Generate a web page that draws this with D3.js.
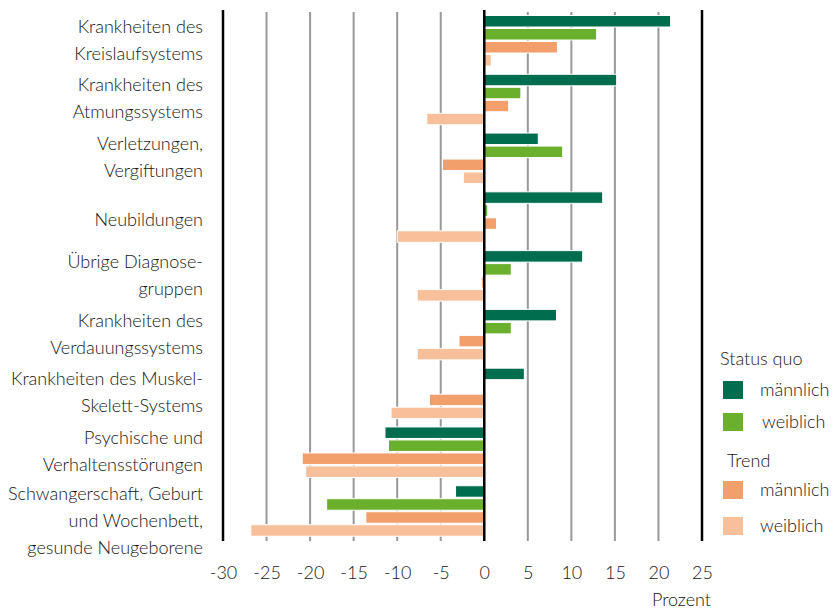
<!DOCTYPE html>
<html>
<head>
<meta charset="utf-8">
<script src="https://cdn.jsdelivr.net/npm/d3@7"></script>
<style>
  html, body { margin: 0; padding: 0; background: #fff; }
  svg text { font-family: Lato, "Open Sans", sans-serif; font-weight: 300; fill: #161616; }
</style>
</head>
<body>
<svg id="chart" width="833" height="609"></svg>
<script>
// Diagnosis groups (label lines per group)
const categories = [
  ["Krankheiten des", "Kreislaufsystems"],
  ["Krankheiten des", "Atmungssystems"],
  ["Verletzungen,", "Vergiftungen"],
  ["Neubildungen"],
  ["Übrige Diagnose-", "gruppen"],
  ["Krankheiten des", "Verdauungssystems"],
  ["Krankheiten des Muskel-", "Skelett-Systems"],
  ["Psychische und", "Verhaltensstörungen"],
  ["Schwangerschaft, Geburt", "und Wochenbett,", "gesunde Neugeborene"]
];

// Change in percent per group
const statusQuoMaennlich = [21.4, 15.2, 6.2, 13.6, 11.3, 8.3, 4.6, -11.4, -3.3];
const statusQuoWeiblich  = [12.9, 4.2, 9.0, 0.4, 3.1, 3.1, 0.0, -11.0, -18.1];
const trendMaennlich     = [8.4, 2.8, -4.8, 1.4, -0.3, -2.9, -6.3, -20.9, -13.6];
const trendWeiblich      = [0.8, -6.6, -2.4, -10.0, -7.7, -7.7, -10.7, -20.5, -26.8];

const xTicks = [-30, -25, -20, -15, -10, -5, 0, 5, 10, 15, 20, 25];

const seriesNames = ["sqM", "sqW", "trM", "trW"];
const seriesValues = [statusQuoMaennlich, statusQuoWeiblich, trendMaennlich, trendWeiblich];
const seriesColors = ["#006e4e", "#6ab02c", "#f39f6b", "#f8bf9b"];

const svg = d3.select("#chart");
const plotTop = 12, plotBottom = 541;
const fontSize = 18;

const x = d3.scaleLinear().domain([-30, 25]).range([223, 702]);
const y = d3.scaleBand().domain(d3.range(categories.length)).range([plotTop, plotBottom]);
const ySub = d3.scaleBand().domain(seriesNames).range([3, 3 + 52]);

// grey gridlines
svg.append("g").selectAll("line")
  .data(xTicks.filter(t => t !== -30 && t !== 25 && t !== 0))
  .join("line")
  .attr("x1", d => x(d)).attr("x2", d => x(d))
  .attr("y1", plotTop).attr("y2", plotBottom)
  .attr("stroke", "#999").attr("stroke-width", 2);

// bars
const groups = svg.append("g").selectAll("g")
  .data(categories.map((c, i) => i))
  .join("g")
  .attr("transform", i => `translate(0,${y(i)})`);

groups.selectAll("rect")
  .data(i => seriesNames.map((s, k) => ({ s, k, v: seriesValues[k][i] })).filter(d => d.v !== 0))
  .join("rect")
  .attr("x", d => x(Math.min(0, d.v)))
  .attr("width", d => Math.abs(x(d.v) - x(0)))
  .attr("y", d => ySub(d.s) + 0.5)
  .attr("height", ySub.bandwidth() - 1.5)
  .attr("fill", d => seriesColors[d.k])
  .attr("stroke", "#fff").attr("stroke-width", 1);

// black frame lines and zero line
svg.append("g").selectAll("line")
  .data([-30, 0, 25])
  .join("line")
  .attr("x1", d => x(d)).attr("x2", d => x(d))
  .attr("y1", plotTop - 2).attr("y2", plotBottom)
  .attr("stroke", "#000").attr("stroke-width", 2.5);

// category labels: block offset depends on the number of lines
const lineH = 27;
const blockShift = { 1: 2, 2: -1.5, 3: 9 };
svg.append("g").selectAll("text")
  .data(categories.map((c, i) => ({ c, i })))
  .join("text")
  .attr("text-anchor", "end")
  .attr("font-size", fontSize)
  .each(function (d) {
    const n = d.c.length;
    const cy = y(d.i) + y.bandwidth() / 2 + blockShift[n];
    d3.select(this).selectAll("tspan")
      .data(d.c)
      .join("tspan")
      .attr("x", 203)
      .attr("y", (t, j) => cy + (j - (n - 1) / 2) * lineH)
      .attr("dy", "0.35em")
      .text(t => t);
  });

// x axis tick labels
const xAxis = d3.axisBottom(x).tickValues(xTicks).tickSize(0).tickPadding(0)
  .tickFormat(d => String(d));
const ax = svg.append("g").attr("transform", "translate(0,566)").call(xAxis);
ax.select(".domain").remove();
ax.selectAll("text").attr("font-size", fontSize).attr("fill", "#161616")
  .style("font-family", 'Lato, "Open Sans", sans-serif').style("font-weight", 300);

svg.append("text").attr("x", 711).attr("y", 606).attr("text-anchor", "end")
  .attr("font-size", fontSize).text("Prozent");

// legend
const legend = svg.append("g");
legend.append("text").attr("x", 720).attr("y", 365).attr("font-size", fontSize).text("Status quo");
legend.append("text").attr("x", 727).attr("y", 467).attr("font-size", fontSize).text("Trend");
const legendItems = [
  { k: 0, y: 381, label: "männlich", tx: 760 },
  { k: 1, y: 413, label: "weiblich", tx: 762 },
  { k: 2, y: 481, label: "männlich", tx: 760 },
  { k: 3, y: 517, label: "weiblich", tx: 760 }
];
legend.selectAll("rect").data(legendItems).join("rect")
  .attr("x", 723).attr("y", d => d.y).attr("width", 20).attr("height", 18)
  .attr("fill", d => seriesColors[d.k]);
legend.selectAll("text.item").data(legendItems).join("text")
  .attr("class", "item")
  .attr("x", d => d.tx).attr("y", d => d.y + 9).attr("dy", "0.35em")
  .attr("font-size", fontSize).text(d => d.label);
</script>
</body>
</html>
